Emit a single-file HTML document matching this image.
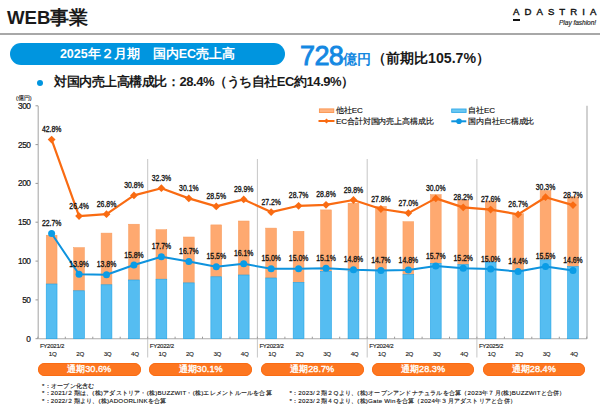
<!DOCTYPE html>
<html><head><meta charset="utf-8">
<style>
*{margin:0;padding:0;box-sizing:border-box}
html,body{width:600px;height:408px;overflow:hidden;background:#fff}
body{position:relative;font-family:"Liberation Sans",sans-serif;color:#111}
.abs{position:absolute;white-space:nowrap}
#title{left:7px;top:6px;font-size:18.6px;font-weight:bold;color:#1a1a1a;line-height:24px}
#hr{left:0;top:33px;width:600px;height:2px;background:#a8a8a8}
#logo{left:513px;top:6.8px;font-size:9.6px;letter-spacing:5.05px;font-weight:normal;-webkit-text-stroke:0.4px #111;color:#111;line-height:9px}
#logobar{left:513px;top:19px;width:7px;height:2px;background:#111}
#tag{left:559px;top:19px;font-size:6.6px;font-style:italic;font-weight:normal;letter-spacing:-0.05px;-webkit-text-stroke:0.15px #222;color:#222;line-height:7px}
#bpill{left:10px;top:43px;width:275px;height:22px;border-radius:11px;background:#0095df;color:#fff;font-size:12.5px;font-weight:bold;text-align:center;line-height:22px}
#big{left:300px;top:41.5px;font-size:27px;font-weight:normal;letter-spacing:-0.6px;-webkit-text-stroke:0.9px #1488e2;color:#1488e2;line-height:28px}
#oku{left:343.3px;top:51px;font-size:14px;color:#1387e0;font-weight:bold;line-height:16px}
#yoy{left:372px;top:50px;font-size:14.2px;font-weight:bold;color:#1a1a1a;line-height:17px}
#dot{left:37px;top:79.5px;width:6px;height:6px;border-radius:3px;background:#0095df}
#l2{left:54px;top:74.2px;font-size:13px;letter-spacing:-0.45px;font-weight:bold;color:#1a1a1a;line-height:15px}
#unit{left:16px;top:95px;font-size:5.5px;color:#222;-webkit-text-stroke:0.15px #222;line-height:6px}
svg{position:absolute;left:0;top:0}
svg text{font-family:"Liberation Sans",sans-serif;font-size:7.9px;font-weight:normal;letter-spacing:-0.45px;fill:#111;stroke:#111;stroke-width:0.12px;text-anchor:middle}
svg text.dl{font-size:8.3px;letter-spacing:0;stroke-width:0.32px}
svg text.yl{font-weight:normal;font-size:8.3px;text-anchor:end;stroke:#111;stroke-width:0.2px}
svg text.xl{font-weight:normal;font-size:6.2px;letter-spacing:-0.3px;fill:#222;stroke-width:0.12px}
svg text.fy{font-weight:normal;font-size:6.1px;letter-spacing:-0.28px;text-anchor:start;fill:#222;stroke-width:0.12px}
.op{position:absolute;top:363px;width:102.5px;height:13px;border-radius:6.5px;background:#fd7620;box-shadow:inset 0 0 0 0.8px #f96a10;color:#fff;font-size:9.2px;text-align:center;line-height:13px;font-weight:normal;-webkit-text-stroke:0.35px #fff}
.leg{position:absolute;font-size:8px;letter-spacing:-0.12px;color:#111;-webkit-text-stroke:0.15px #111;line-height:9px;white-space:nowrap}
.fn{position:absolute;font-size:6.2px;letter-spacing:0.22px;color:#111;-webkit-text-stroke:0.12px #111;line-height:7.4px;white-space:nowrap}
</style></head><body>
<div class="abs" id="title">WEB事業</div>
<div class="abs" id="hr"></div>
<div class="abs" id="logo">ADASTRIA</div>
<div class="abs" id="logobar"></div>
<div class="abs" id="tag">Play fashion!</div>
<div class="abs" id="bpill">2025年２月期　国内EC売上高</div>
<div class="abs" id="big">728</div>
<div class="abs" id="oku">億円</div>
<div class="abs" id="yoy">（前期比105.7%）</div>
<div class="abs" id="dot"></div>
<div class="abs" id="l2">対国内売上高構成比：28.4%（うち自社EC約14.9%）</div>
<div class="abs" id="unit">(億円)</div>
<svg width="600" height="408" viewBox="0 0 600 408">
<line x1="38.2" y1="105.8" x2="38.2" y2="338.7" stroke="#ababab" stroke-width="1.1"/>
<line x1="587" y1="105.8" x2="587" y2="338.7" stroke="#ababab" stroke-width="1.1"/>
<line x1="38.2" y1="338.7" x2="587" y2="338.7" stroke="#ababab" stroke-width="1.1"/>
<line x1="35.5" y1="338.7" x2="38" y2="338.7" stroke="#999" stroke-width="1"/>
<text class="yl" x="30.5" y="341.6">0</text>
<line x1="35.5" y1="299.9" x2="38" y2="299.9" stroke="#999" stroke-width="1"/>
<text class="yl" x="30.5" y="302.8">50</text>
<line x1="35.5" y1="261.1" x2="38" y2="261.1" stroke="#999" stroke-width="1"/>
<text class="yl" x="30.5" y="264.0">100</text>
<line x1="35.5" y1="222.2" x2="38" y2="222.2" stroke="#999" stroke-width="1"/>
<text class="yl" x="30.5" y="225.1">150</text>
<line x1="35.5" y1="183.4" x2="38" y2="183.4" stroke="#999" stroke-width="1"/>
<text class="yl" x="30.5" y="186.3">200</text>
<line x1="35.5" y1="144.6" x2="38" y2="144.6" stroke="#999" stroke-width="1"/>
<text class="yl" x="30.5" y="147.5">250</text>
<line x1="35.5" y1="105.8" x2="38" y2="105.8" stroke="#999" stroke-width="1"/>
<text class="yl" x="30.5" y="108.7">300</text>
<line x1="147.7" y1="159" x2="147.7" y2="357.5" stroke="#c6c6c6" stroke-width="1"/>
<line x1="257.4" y1="159" x2="257.4" y2="357.5" stroke="#c6c6c6" stroke-width="1"/>
<line x1="367.2" y1="159" x2="367.2" y2="357.5" stroke="#c6c6c6" stroke-width="1"/>
<line x1="476.9" y1="159" x2="476.9" y2="357.5" stroke="#c6c6c6" stroke-width="1"/>
<line x1="37.9" y1="336.7" x2="37.9" y2="338.7" stroke="#999" stroke-width="1"/>
<line x1="65.3" y1="336.7" x2="65.3" y2="338.7" stroke="#999" stroke-width="1"/>
<line x1="92.8" y1="336.7" x2="92.8" y2="338.7" stroke="#999" stroke-width="1"/>
<line x1="120.2" y1="336.7" x2="120.2" y2="338.7" stroke="#999" stroke-width="1"/>
<line x1="147.7" y1="336.7" x2="147.7" y2="338.7" stroke="#999" stroke-width="1"/>
<line x1="175.1" y1="336.7" x2="175.1" y2="338.7" stroke="#999" stroke-width="1"/>
<line x1="202.5" y1="336.7" x2="202.5" y2="338.7" stroke="#999" stroke-width="1"/>
<line x1="230.0" y1="336.7" x2="230.0" y2="338.7" stroke="#999" stroke-width="1"/>
<line x1="257.4" y1="336.7" x2="257.4" y2="338.7" stroke="#999" stroke-width="1"/>
<line x1="284.9" y1="336.7" x2="284.9" y2="338.7" stroke="#999" stroke-width="1"/>
<line x1="312.3" y1="336.7" x2="312.3" y2="338.7" stroke="#999" stroke-width="1"/>
<line x1="339.7" y1="336.7" x2="339.7" y2="338.7" stroke="#999" stroke-width="1"/>
<line x1="367.2" y1="336.7" x2="367.2" y2="338.7" stroke="#999" stroke-width="1"/>
<line x1="394.6" y1="336.7" x2="394.6" y2="338.7" stroke="#999" stroke-width="1"/>
<line x1="422.1" y1="336.7" x2="422.1" y2="338.7" stroke="#999" stroke-width="1"/>
<line x1="449.5" y1="336.7" x2="449.5" y2="338.7" stroke="#999" stroke-width="1"/>
<line x1="476.9" y1="336.7" x2="476.9" y2="338.7" stroke="#999" stroke-width="1"/>
<line x1="504.4" y1="336.7" x2="504.4" y2="338.7" stroke="#999" stroke-width="1"/>
<line x1="531.8" y1="336.7" x2="531.8" y2="338.7" stroke="#999" stroke-width="1"/>
<line x1="559.3" y1="336.7" x2="559.3" y2="338.7" stroke="#999" stroke-width="1"/>
<line x1="586.7" y1="336.7" x2="586.7" y2="338.7" stroke="#999" stroke-width="1"/>
<text class="xl" x="52.6" y="355.8">1Q</text>
<text class="xl" x="80.1" y="355.8">2Q</text>
<text class="xl" x="107.5" y="355.8">3Q</text>
<text class="xl" x="134.9" y="355.8">4Q</text>
<text class="xl" x="162.4" y="355.8">1Q</text>
<text class="xl" x="189.8" y="355.8">2Q</text>
<text class="xl" x="217.3" y="355.8">3Q</text>
<text class="xl" x="244.7" y="355.8">4Q</text>
<text class="xl" x="272.1" y="355.8">1Q</text>
<text class="xl" x="299.6" y="355.8">2Q</text>
<text class="xl" x="327.0" y="355.8">3Q</text>
<text class="xl" x="354.5" y="355.8">4Q</text>
<text class="xl" x="381.9" y="355.8">1Q</text>
<text class="xl" x="409.3" y="355.8">2Q</text>
<text class="xl" x="436.8" y="355.8">3Q</text>
<text class="xl" x="464.2" y="355.8">4Q</text>
<text class="xl" x="491.7" y="355.8">1Q</text>
<text class="xl" x="519.1" y="355.8">2Q</text>
<text class="xl" x="546.5" y="355.8">3Q</text>
<text class="xl" x="574.0" y="355.8">4Q</text>
<text class="fy" x="39.9" y="347.6">FY2021/2</text>
<text class="fy" x="149.7" y="347.6">FY2022/2</text>
<text class="fy" x="259.4" y="347.6">FY2023/2</text>
<text class="fy" x="369.2" y="347.6">FY2024/2</text>
<text class="fy" x="478.9" y="347.6">FY2025/2</text>
<rect x="46.22" y="235.2" width="10.8" height="48.8" fill="#FEA970" stroke="#F89C5C" stroke-width="0.5"/>
<rect x="46.22" y="284.0" width="10.8" height="54.7" fill="#55BDF1" stroke="#22A3E6" stroke-width="0.6"/>
<rect x="73.66" y="247.6" width="10.8" height="43.2" fill="#FEA970" stroke="#F89C5C" stroke-width="0.5"/>
<rect x="73.66" y="290.8" width="10.8" height="47.9" fill="#55BDF1" stroke="#22A3E6" stroke-width="0.6"/>
<rect x="101.10" y="233.1" width="10.8" height="51.7" fill="#FEA970" stroke="#F89C5C" stroke-width="0.5"/>
<rect x="101.10" y="284.8" width="10.8" height="53.9" fill="#55BDF1" stroke="#22A3E6" stroke-width="0.6"/>
<rect x="128.54" y="224.2" width="10.8" height="55.8" fill="#FEA970" stroke="#F89C5C" stroke-width="0.5"/>
<rect x="128.54" y="280.0" width="10.8" height="58.7" fill="#55BDF1" stroke="#22A3E6" stroke-width="0.6"/>
<rect x="155.98" y="229.7" width="10.8" height="49.5" fill="#FEA970" stroke="#F89C5C" stroke-width="0.5"/>
<rect x="155.98" y="279.2" width="10.8" height="59.5" fill="#55BDF1" stroke="#22A3E6" stroke-width="0.6"/>
<rect x="183.42" y="237.0" width="10.8" height="45.9" fill="#FEA970" stroke="#F89C5C" stroke-width="0.5"/>
<rect x="183.42" y="282.9" width="10.8" height="55.8" fill="#55BDF1" stroke="#22A3E6" stroke-width="0.6"/>
<rect x="210.86" y="224.9" width="10.8" height="51.9" fill="#FEA970" stroke="#F89C5C" stroke-width="0.5"/>
<rect x="210.86" y="276.8" width="10.8" height="61.9" fill="#55BDF1" stroke="#22A3E6" stroke-width="0.6"/>
<rect x="238.30" y="221.0" width="10.8" height="54.0" fill="#FEA970" stroke="#F89C5C" stroke-width="0.5"/>
<rect x="238.30" y="275.0" width="10.8" height="63.7" fill="#55BDF1" stroke="#22A3E6" stroke-width="0.6"/>
<rect x="265.74" y="228.1" width="10.8" height="49.9" fill="#FEA970" stroke="#F89C5C" stroke-width="0.5"/>
<rect x="265.74" y="278.0" width="10.8" height="60.7" fill="#55BDF1" stroke="#22A3E6" stroke-width="0.6"/>
<rect x="293.18" y="231.3" width="10.8" height="51.1" fill="#FEA970" stroke="#F89C5C" stroke-width="0.5"/>
<rect x="293.18" y="282.4" width="10.8" height="56.3" fill="#55BDF1" stroke="#22A3E6" stroke-width="0.6"/>
<rect x="320.62" y="209.9" width="10.8" height="61.5" fill="#FEA970" stroke="#F89C5C" stroke-width="0.5"/>
<rect x="320.62" y="271.4" width="10.8" height="67.3" fill="#55BDF1" stroke="#22A3E6" stroke-width="0.6"/>
<rect x="348.06" y="203.2" width="10.8" height="67.9" fill="#FEA970" stroke="#F89C5C" stroke-width="0.5"/>
<rect x="348.06" y="271.1" width="10.8" height="67.6" fill="#55BDF1" stroke="#22A3E6" stroke-width="0.6"/>
<rect x="375.50" y="206.4" width="10.8" height="64.0" fill="#FEA970" stroke="#F89C5C" stroke-width="0.5"/>
<rect x="375.50" y="270.4" width="10.8" height="68.3" fill="#55BDF1" stroke="#22A3E6" stroke-width="0.6"/>
<rect x="402.94" y="221.7" width="10.8" height="52.9" fill="#FEA970" stroke="#F89C5C" stroke-width="0.5"/>
<rect x="402.94" y="274.6" width="10.8" height="64.1" fill="#55BDF1" stroke="#22A3E6" stroke-width="0.6"/>
<rect x="430.38" y="194.6" width="10.8" height="68.7" fill="#FEA970" stroke="#F89C5C" stroke-width="0.5"/>
<rect x="430.38" y="263.3" width="10.8" height="75.4" fill="#55BDF1" stroke="#22A3E6" stroke-width="0.6"/>
<rect x="457.82" y="200.0" width="10.8" height="64.6" fill="#FEA970" stroke="#F89C5C" stroke-width="0.5"/>
<rect x="457.82" y="264.6" width="10.8" height="74.1" fill="#55BDF1" stroke="#22A3E6" stroke-width="0.6"/>
<rect x="485.26" y="201.0" width="10.8" height="61.0" fill="#FEA970" stroke="#F89C5C" stroke-width="0.5"/>
<rect x="485.26" y="262.0" width="10.8" height="76.7" fill="#55BDF1" stroke="#22A3E6" stroke-width="0.6"/>
<rect x="512.70" y="213.7" width="10.8" height="57.3" fill="#FEA970" stroke="#F89C5C" stroke-width="0.5"/>
<rect x="512.70" y="271.0" width="10.8" height="67.7" fill="#55BDF1" stroke="#22A3E6" stroke-width="0.6"/>
<rect x="540.14" y="190.5" width="10.8" height="69.3" fill="#FEA970" stroke="#F89C5C" stroke-width="0.5"/>
<rect x="540.14" y="259.8" width="10.8" height="78.9" fill="#55BDF1" stroke="#22A3E6" stroke-width="0.6"/>
<rect x="567.58" y="196.8" width="10.8" height="69.8" fill="#FEA970" stroke="#F89C5C" stroke-width="0.5"/>
<rect x="567.58" y="266.6" width="10.8" height="72.1" fill="#55BDF1" stroke="#22A3E6" stroke-width="0.6"/>
<polyline points="51.62,139.6 79.06,216.1 106.50,214.2 133.94,195.4 161.38,188.2 188.82,198.4 216.26,206.4 243.70,199.4 271.14,212.1 298.58,205.8 326.02,204.8 353.46,200.0 380.90,209.0 408.34,213.1 435.78,198.4 463.22,207.4 490.66,209.6 518.10,214.4 545.54,197.2 572.98,205.1" fill="none" stroke="#F96B12" stroke-width="2.2" stroke-linejoin="round"/>
<polyline points="51.62,233.5 79.06,274.3 106.50,274.7 133.94,265.0 161.38,256.8 188.82,261.4 216.26,266.8 243.70,263.8 271.14,268.8 298.58,268.8 326.02,268.2 353.46,269.7 380.90,270.4 408.34,270.0 435.78,265.9 463.22,268.2 490.66,269.1 518.10,271.6 545.54,266.4 572.98,270.5" fill="none" stroke="#0E93DE" stroke-width="2" stroke-linejoin="round"/>
<path d="M51.62 135.7L55.52 139.6L51.62 143.5L47.72 139.6Z" fill="#F96B12"/>
<circle cx="51.62" cy="233.5" r="3.5" fill="#0A9CE6"/>
<path d="M79.06 212.2L82.96 216.1L79.06 220.0L75.16 216.1Z" fill="#F96B12"/>
<circle cx="79.06" cy="274.3" r="3.5" fill="#0A9CE6"/>
<path d="M106.50 210.3L110.40 214.2L106.50 218.1L102.60 214.2Z" fill="#F96B12"/>
<circle cx="106.50" cy="274.7" r="3.5" fill="#0A9CE6"/>
<path d="M133.94 191.5L137.84 195.4L133.94 199.3L130.04 195.4Z" fill="#F96B12"/>
<circle cx="133.94" cy="265.0" r="3.5" fill="#0A9CE6"/>
<path d="M161.38 184.3L165.28 188.2L161.38 192.1L157.48 188.2Z" fill="#F96B12"/>
<circle cx="161.38" cy="256.8" r="3.5" fill="#0A9CE6"/>
<path d="M188.82 194.5L192.72 198.4L188.82 202.3L184.92 198.4Z" fill="#F96B12"/>
<circle cx="188.82" cy="261.4" r="3.5" fill="#0A9CE6"/>
<path d="M216.26 202.5L220.16 206.4L216.26 210.3L212.36 206.4Z" fill="#F96B12"/>
<circle cx="216.26" cy="266.8" r="3.5" fill="#0A9CE6"/>
<path d="M243.70 195.5L247.60 199.4L243.70 203.3L239.80 199.4Z" fill="#F96B12"/>
<circle cx="243.70" cy="263.8" r="3.5" fill="#0A9CE6"/>
<path d="M271.14 208.2L275.04 212.1L271.14 216.0L267.24 212.1Z" fill="#F96B12"/>
<circle cx="271.14" cy="268.8" r="3.5" fill="#0A9CE6"/>
<path d="M298.58 201.9L302.48 205.8L298.58 209.7L294.68 205.8Z" fill="#F96B12"/>
<circle cx="298.58" cy="268.8" r="3.5" fill="#0A9CE6"/>
<path d="M326.02 200.9L329.92 204.8L326.02 208.7L322.12 204.8Z" fill="#F96B12"/>
<circle cx="326.02" cy="268.2" r="3.5" fill="#0A9CE6"/>
<path d="M353.46 196.1L357.36 200.0L353.46 203.9L349.56 200.0Z" fill="#F96B12"/>
<circle cx="353.46" cy="269.7" r="3.5" fill="#0A9CE6"/>
<path d="M380.90 205.1L384.80 209.0L380.90 212.9L377.00 209.0Z" fill="#F96B12"/>
<circle cx="380.90" cy="270.4" r="3.5" fill="#0A9CE6"/>
<path d="M408.34 209.2L412.24 213.1L408.34 217.0L404.44 213.1Z" fill="#F96B12"/>
<circle cx="408.34" cy="270.0" r="3.5" fill="#0A9CE6"/>
<path d="M435.78 194.5L439.68 198.4L435.78 202.3L431.88 198.4Z" fill="#F96B12"/>
<circle cx="435.78" cy="265.9" r="3.5" fill="#0A9CE6"/>
<path d="M463.22 203.5L467.12 207.4L463.22 211.3L459.32 207.4Z" fill="#F96B12"/>
<circle cx="463.22" cy="268.2" r="3.5" fill="#0A9CE6"/>
<path d="M490.66 205.7L494.56 209.6L490.66 213.5L486.76 209.6Z" fill="#F96B12"/>
<circle cx="490.66" cy="269.1" r="3.5" fill="#0A9CE6"/>
<path d="M518.10 210.5L522.00 214.4L518.10 218.3L514.20 214.4Z" fill="#F96B12"/>
<circle cx="518.10" cy="271.6" r="3.5" fill="#0A9CE6"/>
<path d="M545.54 193.3L549.44 197.2L545.54 201.1L541.64 197.2Z" fill="#F96B12"/>
<circle cx="545.54" cy="266.4" r="3.5" fill="#0A9CE6"/>
<path d="M572.98 201.2L576.88 205.1L572.98 209.0L569.08 205.1Z" fill="#F96B12"/>
<circle cx="572.98" cy="270.5" r="3.5" fill="#0A9CE6"/>
<text class="dl" transform="translate(51.62 132.2) scale(0.83 1)">42.8%</text>
<text class="dl" transform="translate(51.62 226.1) scale(0.83 1)">22.7%</text>
<text class="dl" transform="translate(79.06 208.7) scale(0.83 1)">26.4%</text>
<text class="dl" transform="translate(79.06 266.9) scale(0.83 1)">13.9%</text>
<text class="dl" transform="translate(106.50 206.8) scale(0.83 1)">26.8%</text>
<text class="dl" transform="translate(106.50 267.3) scale(0.83 1)">13.8%</text>
<text class="dl" transform="translate(133.94 188.0) scale(0.83 1)">30.8%</text>
<text class="dl" transform="translate(133.94 257.6) scale(0.83 1)">15.8%</text>
<text class="dl" transform="translate(161.38 180.8) scale(0.83 1)">32.3%</text>
<text class="dl" transform="translate(161.38 249.4) scale(0.83 1)">17.7%</text>
<text class="dl" transform="translate(188.82 191.0) scale(0.83 1)">30.1%</text>
<text class="dl" transform="translate(188.82 254.0) scale(0.83 1)">16.7%</text>
<text class="dl" transform="translate(216.26 199.0) scale(0.83 1)">28.5%</text>
<text class="dl" transform="translate(216.26 259.4) scale(0.83 1)">15.5%</text>
<text class="dl" transform="translate(243.70 192.0) scale(0.83 1)">29.9%</text>
<text class="dl" transform="translate(243.70 256.4) scale(0.83 1)">16.1%</text>
<text class="dl" transform="translate(271.14 204.7) scale(0.83 1)">27.2%</text>
<text class="dl" transform="translate(271.14 261.4) scale(0.83 1)">15.0%</text>
<text class="dl" transform="translate(298.58 198.4) scale(0.83 1)">28.7%</text>
<text class="dl" transform="translate(298.58 261.4) scale(0.83 1)">15.0%</text>
<text class="dl" transform="translate(326.02 197.4) scale(0.83 1)">28.8%</text>
<text class="dl" transform="translate(326.02 260.8) scale(0.83 1)">15.1%</text>
<text class="dl" transform="translate(353.46 192.6) scale(0.83 1)">29.8%</text>
<text class="dl" transform="translate(353.46 262.3) scale(0.83 1)">14.8%</text>
<text class="dl" transform="translate(380.90 201.6) scale(0.83 1)">27.8%</text>
<text class="dl" transform="translate(380.90 263.0) scale(0.83 1)">14.7%</text>
<text class="dl" transform="translate(408.34 205.7) scale(0.83 1)">27.0%</text>
<text class="dl" transform="translate(408.34 262.6) scale(0.83 1)">14.8%</text>
<text class="dl" transform="translate(435.78 191.0) scale(0.83 1)">30.0%</text>
<text class="dl" transform="translate(435.78 258.5) scale(0.83 1)">15.7%</text>
<text class="dl" transform="translate(463.22 200.0) scale(0.83 1)">28.2%</text>
<text class="dl" transform="translate(463.22 260.8) scale(0.83 1)">15.2%</text>
<text class="dl" transform="translate(490.66 202.2) scale(0.83 1)">27.6%</text>
<text class="dl" transform="translate(490.66 261.7) scale(0.83 1)">15.0%</text>
<text class="dl" transform="translate(518.10 207.0) scale(0.83 1)">26.7%</text>
<text class="dl" transform="translate(518.10 264.2) scale(0.83 1)">14.4%</text>
<text class="dl" transform="translate(545.54 189.8) scale(0.83 1)">30.3%</text>
<text class="dl" transform="translate(545.54 259.0) scale(0.83 1)">15.5%</text>
<text class="dl" transform="translate(572.98 197.7) scale(0.83 1)">28.7%</text>
<text class="dl" transform="translate(572.98 263.1) scale(0.83 1)">14.6%</text>
<rect x="319.4" y="108.9" width="14.4" height="3.6" fill="#FFB27F" stroke="#FA9450" stroke-width="0.9"/>
<line x1="318.5" y1="121" x2="334.5" y2="121" stroke="#F96B12" stroke-width="2"/>
<path d="M326.5 118.5L329 121L326.5 123.5L324 121Z" fill="#F96B12"/>
<rect x="451.7" y="109" width="14.4" height="3.4" fill="#6CC8F2" stroke="#2FA8E8" stroke-width="0.9"/>
<line x1="451.3" y1="121.3" x2="466.3" y2="121.3" stroke="#0E93DE" stroke-width="2"/>
<circle cx="459" cy="121.3" r="2.8" fill="#0E96E0"/>
</svg>
<div class="leg" style="left:336px;top:106px">他社EC</div>
<div class="leg" style="left:336px;top:116.5px">EC合計対国内売上高構成比</div>
<div class="leg" style="left:468.3px;top:106px">自社EC</div>
<div class="leg" style="left:468.3px;top:116.8px">国内自社EC構成比</div>
<div class="op" style="left:38px">通期30.6%</div>
<div class="op" style="left:149.4px">通期30.1%</div>
<div class="op" style="left:261px">通期28.7%</div>
<div class="op" style="left:371.8px">通期28.3%</div>
<div class="op" style="left:482.6px">通期28.4%</div>
<div class="fn" style="left:42px;top:381.8px">*：オープン化含む</div>
<div class="fn" style="left:42px;top:389.3px">*：2021/２期は、(株)アダストリア・(株)BUZZWIT・(株)エレメントルールを合算</div>
<div class="fn" style="left:42px;top:396.6px">*：2022/２期より、(株)ADOORLINKを合算</div>
<div class="fn" style="left:289.5px;top:389.3px">*：2023/２期２Qより、(株)オープンアンドナチュラルを合算（2023年７月(株)BUZZWITと合併）</div>
<div class="fn" style="left:289.5px;top:396.6px">*：2023/２期４Qより、(株)Gate Winを合算（2024年３月アダストリアと合併）</div>
</body></html>
